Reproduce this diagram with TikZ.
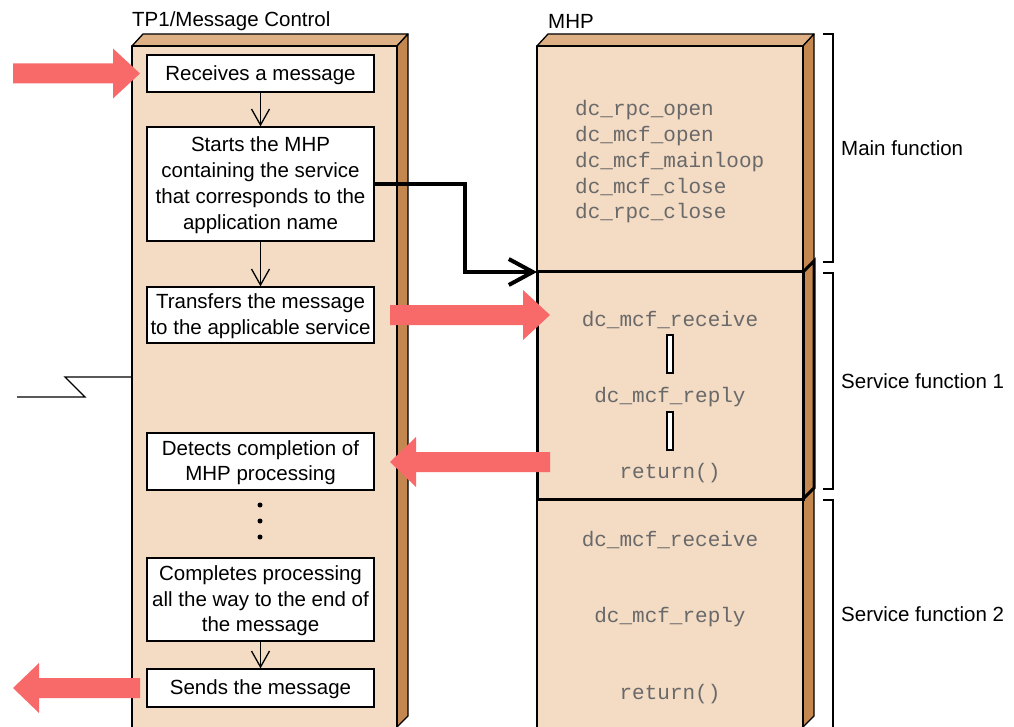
\documentclass[tikz,border=0pt]{standalone}
\usepackage{fontspec}
\setmainfont{Liberation Sans}
\newfontfamily\codefont{Liberation Mono}
\usetikzlibrary{arrows.meta,calc}

\definecolor{faceF}{RGB}{243,219,196}
\definecolor{faceT}{RGB}{221,176,133}
\definecolor{faceS}{RGB}{196,135,80}
\definecolor{sigred}{RGB}{248,106,106}
\definecolor{codegray}{RGB}{105,105,105}

% fat signal arrow: #1 tail, #2 tip, #3 head offset (-27 pointing right, 27 pointing left)
\newcommand\fatarrow[3]{%
  \fill[sigred] ($(#1)+(0,-10)$) -- ($(#2)+(#3,-10)$) -- ($(#2)+(#3,-25)$) -- (#2)
    -- ($(#2)+(#3,25)$) -- ($(#2)+(#3,10)$) -- ($(#1)+(0,10)$) -- cycle;}

\begin{document}
\begin{tikzpicture}[x=1pt,y=-1pt,
  stepbox/.style={draw=black, line width=1.3pt, fill=white, minimum width=227pt,
    inner sep=0pt, align=center, text depth=1.8pt, font=\fontsize{20.5}{25.7}\selectfont},
  flow/.style={line width=1.3pt, -{Straight Barb[length=16pt,width=18pt]}},
  code/.style={font=\codefont\fontsize{21}{21}\selectfont, text=codegray, inner sep=0pt},
  lab/.style={font=\fontsize{20.5}{24}\selectfont, inner sep=0pt},
  edge3d/.style={draw=black, line width=1.3pt, line join=round},
  bracket/.style={draw=black, line width=1.3pt},
  gapbar/.style={draw=black, line width=1.3pt, fill=white, minimum width=6pt,
    minimum height=38pt, inner sep=0pt},
  mainlink/.style={line width=4pt, -{Straight Barb[length=24pt,width=26pt]}},
  dot/.style={circle, fill=black, inner sep=0pt, minimum size=5pt}
]
\useasboundingbox (0,0) rectangle (1014,727);
\clip (0,0) rectangle (1014,727);

% ---- TP1/Message Control column ----
\fill[faceF] (132,46) rectangle (397,740);
\draw[edge3d, fill=faceT] (132,46) -- (143,34) -- (408,34) -- (397,46) -- cycle;
\draw[edge3d, fill=faceS] (397,46) -- (408,34) -- (408,716) -- (397,727) -- cycle;
\draw[edge3d] (132,740) -- (132,46) -- (397,46) -- (397,740);

% ---- MHP column ----
\fill[faceF] (537,46) rectangle (803,740);
\draw[edge3d, fill=faceT] (537,46) -- (548,34) -- (814,34) -- (803,46) -- cycle;
\draw[edge3d, fill=faceS] (803,46) -- (814,34) -- (814,716) -- (803,727) -- cycle;
\draw[edge3d] (537,740) -- (537,46) -- (803,46) -- (803,740);
% service function 1 block
\coordinate (sf1nw) at (537,272);
\draw[line width=3pt, line join=miter] (sf1nw) rectangle (803,499);
\draw[line width=3pt, line join=miter] (803,272) -- (814,261) -- (814,488) -- (803,499);

% ---- titles ----
\node[lab, anchor=west] (ttp1) at (132,21) {TP1/Message Control};
\node[lab, anchor=west] (tmhp) at (548,21) {MHP};

% ---- processing steps ----
\node[stepbox, minimum height=37pt] (b1) at (260.5,73.5) {Receives a message};
\node[stepbox, minimum height=114pt] (b2) at (260.5,184) {Starts the MHP\\containing the service\\that corresponds to the\\application name};
\node[stepbox, minimum height=56pt] (b3) at (260.5,315) {Transfers the message\\to the applicable service};
\node[stepbox, minimum height=57pt] (b4) at (260.5,461.5) {Detects completion of\\MHP processing};
\node[stepbox, minimum height=83pt] (b5) at (260.5,599.5) {Completes processing\\all the way to the end of\\the message};
\node[stepbox, minimum height=38pt] (b6) at (260.5,688) {Sends the message};

\draw[flow] (b1) -- (b2);
\draw[flow] (b2) -- (b3);
\draw[flow] (b5) -- (b6);

\node[dot] (d1) at (260,505) {};
\node[dot] (d2) at (260,521) {};
\node[dot] (d3) at (260,537) {};

% ---- break line to the left ----
\coordinate (brkA) at (132,377);
\coordinate (brkB) at (17,397);
\draw[line width=1.3pt] (brkA) -- (65,377) -- (85,397) -- (brkB);

% ---- MHP program text ----
\node[code, anchor=west] (m1) at (575,110) {dc\_rpc\_open};
\node[code, anchor=west] (m2) at (575,136) {dc\_mcf\_open};
\node[code, anchor=west] (m3) at (575,162) {dc\_mcf\_mainloop};
\node[code, anchor=west] (m4) at (575,187) {dc\_mcf\_close};
\node[code, anchor=west] (m5) at (575,213) {dc\_rpc\_close};

\node[code] (s1a) at (670,320) {dc\_mcf\_receive};
\node[gapbar] (bar1) at (670,354) {};
\node[code] (s1b) at (670,397) {dc\_mcf\_reply};
\node[gapbar] (bar2) at (670,431) {};
\node[code] (s1c) at (670,473) {return()};

\node[code] (s2a) at (670,540) {dc\_mcf\_receive};
\node[code] (s2b) at (670,617) {dc\_mcf\_reply};
\node[code] (s2c) at (670,694) {return()};

% ---- start of the MHP ----
\draw[mainlink] (b2.east) -- ++(90,0) |- (sf1nw);

% ---- message flow ----
\coordinate (inT) at (13,73.5);   \coordinate (inH) at (140,73.5);
\coordinate (trT) at (390,315);   \coordinate (trH) at (550,315);
\coordinate (rtT) at (550,462);   \coordinate (rtH) at (390,462);
\coordinate (outT) at (140,688);  \coordinate (outH) at (13,688);
\fatarrow{inT}{inH}{-27}
\fatarrow{trT}{trH}{-27}
\fatarrow{rtT}{rtH}{26}
\fatarrow{outT}{outH}{26}

% ---- function brackets ----
\draw[bracket] (823,34) -- (833,34) -- (833,262) -- (823,262);
\draw[bracket] (823,273) -- (833,273) -- (833,489) -- (823,489);
\draw[bracket] (823,500) -- (833,500) -- (833,740);
\node[lab, anchor=west] (lmain) at (841,148) {Main function};
\node[lab, anchor=west] (lsf1) at (841,381) {Service function 1};
\node[lab, anchor=west] (lsf2) at (841,614) {Service function 2};
\end{tikzpicture}
\end{document}
